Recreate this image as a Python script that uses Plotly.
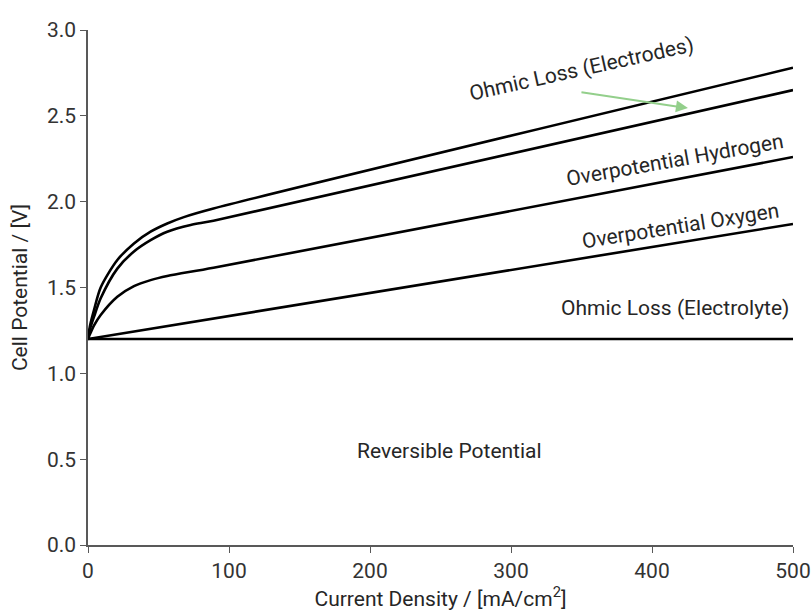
import plotly.graph_objects as go

# Data
x_rev = [0, 500]
v_rev = [1.2, 1.2]

x_elyte = [0, 500]
v_elyte = [1.2, 1.87]

x_oxy = [0, 1.5, 4.3, 9, 20.8, 32.6, 44.4, 56.2, 89, 500]
v_oxy = [1.2, 1.23, 1.28, 1.34, 1.446, 1.508, 1.543, 1.567, 1.615, 2.26]

x_hyd = [0, 1.5, 4.3, 9, 20.8, 32.6, 44.4, 56.2, 72.8, 89, 500]
v_hyd = [1.2, 1.26, 1.33, 1.437, 1.61, 1.71, 1.776, 1.825, 1.864, 1.889, 2.65]

x_elec = [0, 1.5, 4.3, 9, 20.8, 32.6, 44.4, 56.2, 68, 89, 500]
v_elec = [1.2, 1.28, 1.37, 1.50, 1.66, 1.757, 1.825, 1.873, 1.91, 1.96, 2.78]

x_ticks = [0, 100, 200, 300, 400, 500]
y_ticks = [0.0, 0.5, 1.0, 1.5, 2.0, 2.5, 3.0]

FONT = "Roboto"
TXT = "#262626"
FS = 21

fig = go.Figure()
for xs, vs in [(x_rev, v_rev), (x_elyte, v_elyte), (x_oxy, v_oxy), (x_hyd, v_hyd), (x_elec, v_elec)]:
    fig.add_trace(go.Scatter(x=xs, y=vs, mode="lines",
                             line=dict(color="black", width=2.6, shape="spline", smoothing=0.8),
                             showlegend=False, hoverinfo="skip"))

labels = [
    ("Reversible Potential", 256.7, 0.547, 0),
    ("Ohmic Loss (Electrolyte)", 416, 1.38, 0),
    ("Overpotential Oxygen", 420, 1.86, -9),
    ("Overpotential Hydrogen", 416, 2.24, -10),
    ("Ohmic Loss (Electrodes)", 350, 2.77, -12.5),
]
for t, x, y, a in labels:
    fig.add_annotation(x=x, y=y, text=t, showarrow=False, textangle=a,
                       font=dict(family=FONT, size=FS, color=TXT), xanchor="center", yanchor="middle")

fig.add_annotation(x=425.5, y=2.545, ax=-108, ay=-16, showarrow=True, text="",
                   arrowhead=2, arrowsize=1.2, arrowwidth=2, arrowcolor="#93CF8B")

axis_common = dict(showgrid=False, zeroline=False, showline=True, linecolor="#595959", linewidth=1.5,
                   ticks="outside", ticklen=6, tickcolor="#595959", tickwidth=1.2, automargin=False,
                   tickfont=dict(family=FONT, size=FS, color="#333333"))

fig.update_layout(
    width=811, height=612,
    margin=dict(l=88, r=18, t=30, b=67),
    paper_bgcolor="white", plot_bgcolor="white",
    xaxis=dict(range=[0, 500], tickvals=x_ticks, ticktext=[str(v) for v in x_ticks],
               title=dict(text="Current Density / [mA/cm<sup>2</sup>]", font=dict(family=FONT, size=FS, color=TXT), standoff=4),
               **axis_common),
    yaxis=dict(range=[0, 3.0], tickvals=y_ticks, ticktext=[f"{v:.1f}" for v in y_ticks],
               title=dict(text="Cell Potential / [V]", font=dict(family=FONT, size=FS, color=TXT), standoff=14),
               **axis_common),
)

fig.write_html("out.html")
